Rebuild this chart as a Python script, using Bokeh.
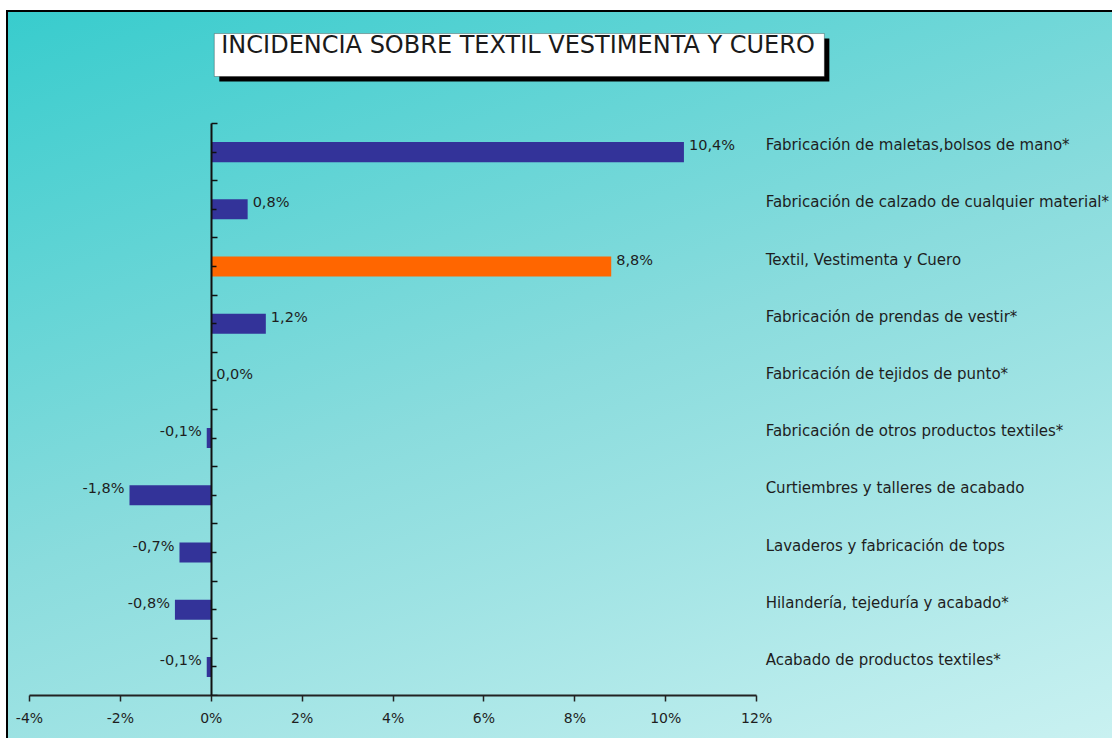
from bokeh.plotting import figure
from bokeh.models import (ColumnDataSource, Range1d, LinearAxis, FixedTicker,
                          PrintfTickFormatter, BoxAnnotation, Label)
from bokeh.core.properties import value
from bokeh.embed import file_html
from bokeh.resources import INLINE

# ---- data (top to bottom) ----
categories = [
    "Fabricación de maletas,bolsos de mano*",
    "Fabricación de calzado de cualquier material*",
    "Textil, Vestimenta y Cuero",
    "Fabricación de prendas de vestir*",
    "Fabricación de tejidos de punto*",
    "Fabricación de otros productos textiles*",
    "Curtiembres y talleres de acabado",
    "Lavaderos y fabricación de tops",
    "Hilandería, tejeduría y acabado*",
    "Acabado de productos textiles*",
]
values = [10.4, 0.8, 8.8, 1.2, 0.0, -0.1, -1.8, -0.7, -0.8, -0.1]
value_labels = ["10,4%", "0,8%", "8,8%", "1,2%", "0,0%", "-0,1%", "-1,8%", "-0,7%", "-0,8%", "-0,1%"]
highlight = "Textil, Vestimenta y Cuero"
x_ticks = [-4, -2, 0, 2, 4, 6, 8, 10, 12]
title_text = "INCIDENCIA SOBRE TEXTIL VESTIMENTA Y CUERO"

BLUE = "#333399"
ORANGE = "#FF6600"
TXT = "#1e1e1e"
FONT = "DejaVu Sans"

n = len(categories)
ypos = [n - 1 - i for i in range(n)]
colors = [ORANGE if c == highlight else BLUE for c in categories]

src = ColumnDataSource(dict(cat=categories, val=values, y=ypos, color=colors, lab=value_labels))
pos_idx = [i for i, v in enumerate(values) if v >= 0]
neg_idx = [i for i, v in enumerate(values) if v < 0]
src_pos = ColumnDataSource(dict(val=[values[i] for i in pos_idx], y=[ypos[i] for i in pos_idx],
                                lab=[value_labels[i] for i in pos_idx]))
src_neg = ColumnDataSource(dict(val=[values[i] for i in neg_idx], y=[ypos[i] for i in neg_idx],
                                lab=[value_labels[i] for i in neg_idx]))

W, H = 1112, 738
p = figure(width=W, height=H, output_backend="svg", toolbar_location=None,
           x_range=Range1d(-4, 19.83), y_range=Range1d(-0.5, 11.476),
           min_border_left=29, min_border_right=0, min_border_top=10, min_border_bottom=43,
           x_axis_location=None, y_axis_location=None)
p.background_fill_color = None
p.border_fill_color = None
p.outline_line_color = None
p.grid.visible = False
p.styles = {
    "background": ("linear-gradient(#000,#000) 6px 10px / 2px 100% no-repeat, "
                   "linear-gradient(#000,#000) 6px 10px / 100% 2px no-repeat, "
                   "linear-gradient(160deg, #38cccd 0%, #8adcdd 50%, #c9f1f1 100%) 8px 12px / 1104px 726px no-repeat, "
                   "#ffffff"),
}

# x axis at bottom
xaxis = LinearAxis(ticker=FixedTicker(ticks=x_ticks), bounds=(x_ticks[0], x_ticks[-1]),
                   formatter=PrintfTickFormatter(format="%d%%"))
xaxis.axis_line_color = "#222222"
xaxis.axis_line_width = 2
xaxis.major_tick_line_color = "#222222"
xaxis.major_tick_line_width = 1.5
xaxis.major_tick_in = 0
xaxis.major_tick_out = 6
xaxis.minor_tick_line_color = None
xaxis.major_label_text_font = FONT
xaxis.major_label_text_font_size = "14px"
xaxis.major_label_text_color = TXT
xaxis.major_label_standoff = 8
p.add_layout(xaxis, "below")

# y axis at x = 0
bounds_ticks = [y - 0.5 for y in range(n + 1)]
yaxis = LinearAxis(ticker=FixedTicker(ticks=bounds_ticks, minor_ticks=list(range(n))),
                   bounds=(-0.5, n - 0.5), fixed_location=0)
yaxis.axis_line_color = "#111111"
yaxis.axis_line_width = 2
yaxis.major_tick_line_color = "#111111"
yaxis.major_tick_line_width = 1.5
yaxis.major_tick_in = 6
yaxis.major_tick_out = 0
yaxis.minor_tick_line_color = "#111111"
yaxis.minor_tick_line_width = 1.5
yaxis.minor_tick_in = 5
yaxis.minor_tick_out = 0
yaxis.major_label_text_font_size = "0px"
yaxis.major_label_text_color = None
p.add_layout(yaxis, "left")

# bars
p.hbar(y="y", left=0, right="val", height=0.35, fill_color="color", line_color=None, source=src)

# value labels
p.text(x="val", y="y", text="lab", source=src_pos, text_align="left", text_baseline="middle",
       x_offset=5, y_offset=-7, text_font=value(FONT), text_font_size="14.5px", text_color=TXT)
p.text(x="val", y="y", text="lab", source=src_neg, text_align="right", text_baseline="middle",
       x_offset=-5, y_offset=-7, text_font=value(FONT), text_font_size="14.5px", text_color=TXT)

# category labels on the right
p.text(x=x_ticks[-1], y="y", text="cat", source=src, text_align="left", text_baseline="middle",
       x_offset=9, y_offset=-7, text_font=value(FONT), text_font_size="15px", text_color=TXT)

# title box with shadow
p.add_layout(BoxAnnotation(left=0.176, right=13.6, top=10.986, bottom=10.234,
                           fill_color="#000000", fill_alpha=1, line_color=None, level="overlay"))
p.add_layout(BoxAnnotation(left=0.066, right=13.49, top=11.073, bottom=10.322,
                           fill_color="#ffffff", fill_alpha=1, line_color="#000000", line_width=1,
                           level="overlay"))
p.add_layout(Label(x=0.22, y=10.87, text=title_text, text_font=FONT, text_font_size="24px",
                   text_color="#1a1a1a", text_baseline="middle", level="overlay"))

open("out.html", "w").write(file_html(p, INLINE))
